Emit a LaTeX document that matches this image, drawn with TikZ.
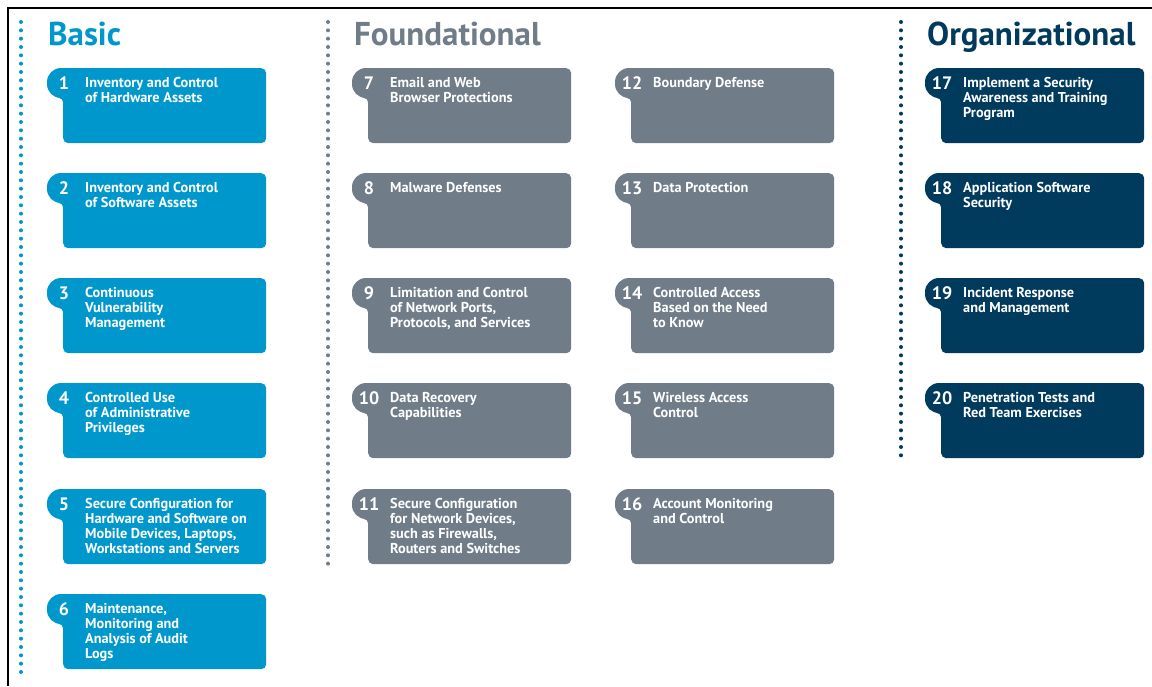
\documentclass[tikz,border=0pt]{standalone}
\usepackage{fontspec}
\setmainfont{PT Sans}
\usetikzlibrary{calc}
\definecolor{cisblue}{RGB}{0,152,204}
\definecolor{cisgray}{RGB}{112,124,135}
\definecolor{cisnavy}{RGB}{0,58,92}
\tikzset{
  cisbox/.style={anchor=north west, minimum width=203pt, minimum height=75pt, rounded corners=5pt, inner sep=0pt, draw=none},
  cisnum/.style={text=white, font=\fontsize{18}{18}\selectfont\bfseries, inner sep=0pt, anchor=center},
  cistext/.style={text=white, font=\fontsize{14.3}{15}\selectfont\bfseries, inner sep=0pt, anchor=base west},
  cistitle/.style={font=\fontsize{33}{33}\selectfont\bfseries, inner sep=0pt, anchor=base west},
  cisdots/.style={line width=4pt, line cap=round, dash pattern=on 0pt off 8.333pt}
}
\newcommand{\cisitem}[5]{%
  \fill[#5, rounded corners=14pt] (#1-16,#2) rectangle (#1+30,#2+30);
  \fill[#5] (#1-4,#2+30) -- (#1,#2+30) -- (#1,#2+34) .. controls (#1,#2+31.8) and (#1-1.8,#2+30) .. (#1-4,#2+30);
  \node[cisbox, fill=#5] (b#3) at (#1,#2) {};
  \node[cisnum] (n#3) at (#1+1,#2+15) {#3};
  \node[cistext] (t#3) at (#1+22,#2+19) {\parbox[t]{180pt}{\raggedright #4}};
}
\begin{document}
\begin{tikzpicture}[x=1pt,y=-1pt]
\useasboundingbox (0,0) rectangle (1152,686);
\fill[white] (0,0) rectangle (1152,686);
\draw[line width=2pt] (7.5,686) -- (7.5,7.5) -- (1152,7.5);
% dotted separators
\draw[cisdots, cisblue] (21,22) -- (21,672.1);
\draw[cisdots, cisgray] (328,22) -- (328,563.7);
\draw[cisdots, cisnavy] (901,22) -- (901,455.4);
% titles
\node[cistitle, text=cisblue] (h1) at (48,45) {Basic};
\node[cistitle, text=cisgray] (h2) at (354,45) {Foundational};
\node[cistitle, text=cisnavy] (h3) at (927,45) {Organizational};
% Basic
\cisitem{63}{68}{1}{Inventory and Control\\of Hardware Assets}{cisblue}
\cisitem{63}{173}{2}{Inventory and Control\\of Software Assets}{cisblue}
\cisitem{63}{278}{3}{Continuous\\Vulnerability\\Management}{cisblue}
\cisitem{63}{383}{4}{Controlled Use\\of Administrative\\Privileges}{cisblue}
\cisitem{63}{489}{5}{Secure Configuration for\\Hardware and Software on\\Mobile Devices, Laptops,\\Workstations and Servers}{cisblue}
\cisitem{63}{594}{6}{Maintenance,\\Monitoring and\\Analysis of Audit\\Logs}{cisblue}
% Foundational
\cisitem{368}{68}{7}{Email and Web\\Browser Protections}{cisgray}
\cisitem{368}{173}{8}{Malware Defenses}{cisgray}
\cisitem{368}{278}{9}{Limitation and Control\\of Network Ports,\\Protocols, and Services}{cisgray}
\cisitem{368}{383}{10}{Data Recovery\\Capabilities}{cisgray}
\cisitem{368}{489}{11}{Secure Configuration\\for Network Devices,\\such as Firewalls,\\Routers and Switches}{cisgray}
\cisitem{631}{68}{12}{Boundary Defense}{cisgray}
\cisitem{631}{173}{13}{Data Protection}{cisgray}
\cisitem{631}{278}{14}{Controlled Access\\Based on the Need\\to Know}{cisgray}
\cisitem{631}{383}{15}{Wireless Access\\Control}{cisgray}
\cisitem{631}{489}{16}{Account Monitoring\\and Control}{cisgray}
% Organizational
\cisitem{941}{68}{17}{Implement a Security\\Awareness and Training\\Program}{cisnavy}
\cisitem{941}{173}{18}{Application Software\\Security}{cisnavy}
\cisitem{941}{278}{19}{Incident Response\\and Management}{cisnavy}
\cisitem{941}{383}{20}{Penetration Tests and\\Red Team Exercises}{cisnavy}
\end{tikzpicture}
\end{document}
